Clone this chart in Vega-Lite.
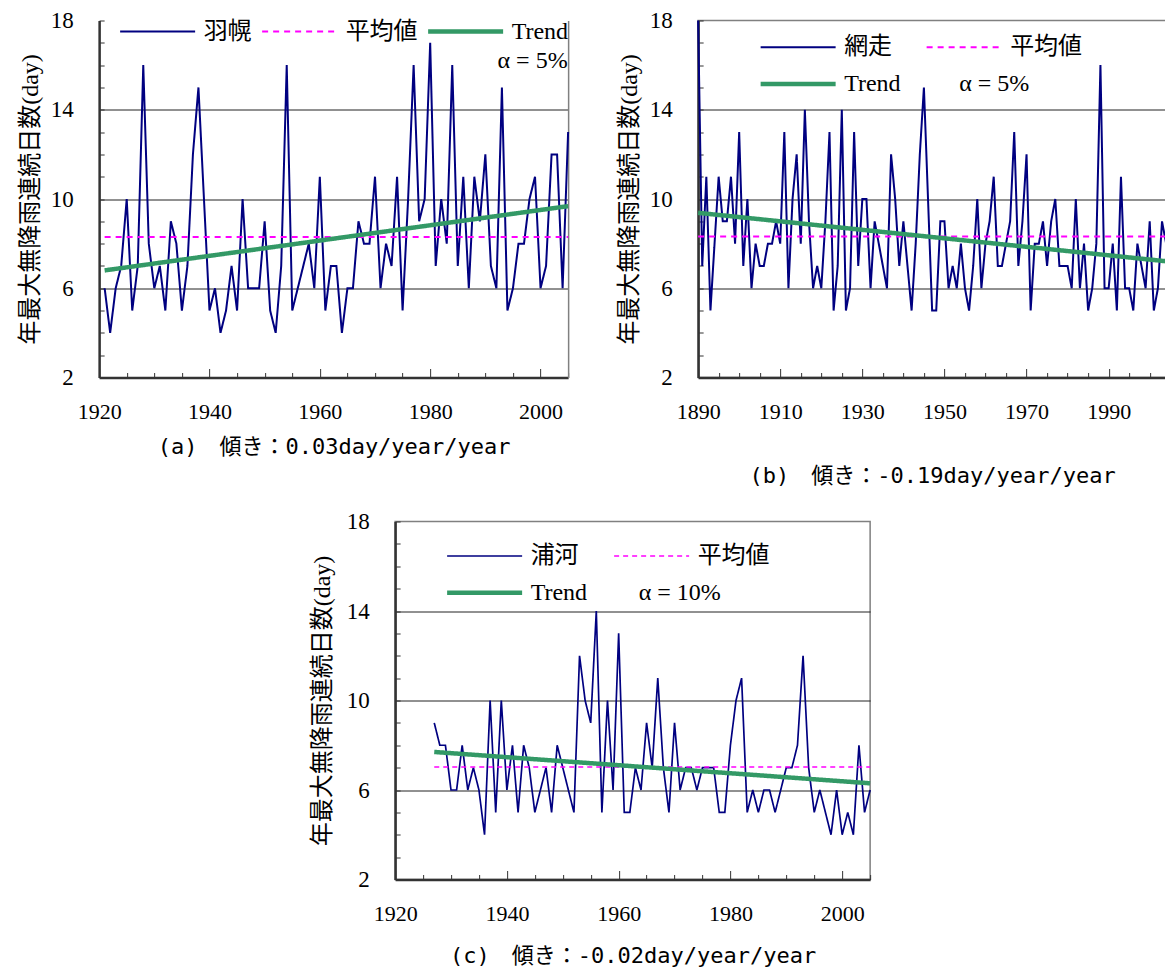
{
  "$schema": "https://vega.github.io/schema/vega-lite/v6.json",
  "padding": {"left": 18, "top": 8.5, "right": 0, "bottom": 0},
  "background": "white",
  "datasets": {
    "a": [
      {"year":1921,"value":6,"s":"羽幌"},{"year":1922,"value":4,"s":"羽幌"},{"year":1923,"value":6,"s":"羽幌"},{"year":1924,"value":7,"s":"羽幌"},{"year":1925,"value":10,"s":"羽幌"},
      {"year":1926,"value":5,"s":"羽幌"},{"year":1927,"value":7,"s":"羽幌"},{"year":1928,"value":16,"s":"羽幌"},{"year":1929,"value":8,"s":"羽幌"},{"year":1930,"value":6,"s":"羽幌"},
      {"year":1931,"value":7,"s":"羽幌"},{"year":1932,"value":5,"s":"羽幌"},{"year":1933,"value":9,"s":"羽幌"},{"year":1934,"value":8,"s":"羽幌"},{"year":1935,"value":5,"s":"羽幌"},
      {"year":1936,"value":7,"s":"羽幌"},{"year":1937,"value":12,"s":"羽幌"},{"year":1938,"value":15,"s":"羽幌"},{"year":1939,"value":10,"s":"羽幌"},{"year":1940,"value":5,"s":"羽幌"},
      {"year":1941,"value":6,"s":"羽幌"},{"year":1942,"value":4,"s":"羽幌"},{"year":1943,"value":5,"s":"羽幌"},{"year":1944,"value":7,"s":"羽幌"},{"year":1945,"value":5,"s":"羽幌"},
      {"year":1946,"value":10,"s":"羽幌"},{"year":1947,"value":6,"s":"羽幌"},{"year":1948,"value":6,"s":"羽幌"},{"year":1949,"value":6,"s":"羽幌"},{"year":1950,"value":9,"s":"羽幌"},
      {"year":1951,"value":5,"s":"羽幌"},{"year":1952,"value":4,"s":"羽幌"},{"year":1953,"value":7,"s":"羽幌"},{"year":1954,"value":16,"s":"羽幌"},{"year":1955,"value":5,"s":"羽幌"},
      {"year":1956,"value":6,"s":"羽幌"},{"year":1957,"value":7,"s":"羽幌"},{"year":1958,"value":8,"s":"羽幌"},{"year":1959,"value":6,"s":"羽幌"},{"year":1960,"value":11,"s":"羽幌"},
      {"year":1961,"value":5,"s":"羽幌"},{"year":1962,"value":7,"s":"羽幌"},{"year":1963,"value":7,"s":"羽幌"},{"year":1964,"value":4,"s":"羽幌"},{"year":1965,"value":6,"s":"羽幌"},
      {"year":1966,"value":6,"s":"羽幌"},{"year":1967,"value":9,"s":"羽幌"},{"year":1968,"value":8,"s":"羽幌"},{"year":1969,"value":8,"s":"羽幌"},{"year":1970,"value":11,"s":"羽幌"},
      {"year":1971,"value":6,"s":"羽幌"},{"year":1972,"value":8,"s":"羽幌"},{"year":1973,"value":7,"s":"羽幌"},{"year":1974,"value":11,"s":"羽幌"},{"year":1975,"value":5,"s":"羽幌"},
      {"year":1976,"value":10,"s":"羽幌"},{"year":1977,"value":16,"s":"羽幌"},{"year":1978,"value":9,"s":"羽幌"},{"year":1979,"value":10,"s":"羽幌"},{"year":1980,"value":17,"s":"羽幌"},
      {"year":1981,"value":7,"s":"羽幌"},{"year":1982,"value":10,"s":"羽幌"},{"year":1983,"value":8,"s":"羽幌"},{"year":1984,"value":16,"s":"羽幌"},{"year":1985,"value":7,"s":"羽幌"},
      {"year":1986,"value":11,"s":"羽幌"},{"year":1987,"value":6,"s":"羽幌"},{"year":1988,"value":11,"s":"羽幌"},{"year":1989,"value":9,"s":"羽幌"},{"year":1990,"value":12,"s":"羽幌"},
      {"year":1991,"value":7,"s":"羽幌"},{"year":1992,"value":6,"s":"羽幌"},{"year":1993,"value":15,"s":"羽幌"},{"year":1994,"value":5,"s":"羽幌"},{"year":1995,"value":6,"s":"羽幌"},
      {"year":1996,"value":8,"s":"羽幌"},{"year":1997,"value":8,"s":"羽幌"},{"year":1998,"value":10,"s":"羽幌"},{"year":1999,"value":11,"s":"羽幌"},{"year":2000,"value":6,"s":"羽幌"},
      {"year":2001,"value":7,"s":"羽幌"},{"year":2002,"value":12,"s":"羽幌"},{"year":2003,"value":12,"s":"羽幌"},{"year":2004,"value":6,"s":"羽幌"},{"year":2005,"value":13,"s":"羽幌"},
      {"year":1921,"value":8.3,"s":"平均値"},{"year":2005,"value":8.3,"s":"平均値"},
      {"year":1921,"value":6.8,"s":"Trend"},{"year":2005,"value":9.68,"s":"Trend"}
    ],
    "b": [
      {"year":1890,"value":18,"s":"網走"},{"year":1891,"value":7,"s":"網走"},{"year":1892,"value":11,"s":"網走"},{"year":1893,"value":5,"s":"網走"},{"year":1894,"value":8,"s":"網走"},
      {"year":1895,"value":11,"s":"網走"},{"year":1896,"value":9,"s":"網走"},{"year":1897,"value":9,"s":"網走"},{"year":1898,"value":11,"s":"網走"},{"year":1899,"value":8,"s":"網走"},
      {"year":1900,"value":13,"s":"網走"},{"year":1901,"value":7,"s":"網走"},{"year":1902,"value":10,"s":"網走"},{"year":1903,"value":6,"s":"網走"},{"year":1904,"value":8,"s":"網走"},
      {"year":1905,"value":7,"s":"網走"},{"year":1906,"value":7,"s":"網走"},{"year":1907,"value":8,"s":"網走"},{"year":1908,"value":8,"s":"網走"},{"year":1909,"value":9,"s":"網走"},
      {"year":1910,"value":8,"s":"網走"},{"year":1911,"value":13,"s":"網走"},{"year":1912,"value":6,"s":"網走"},{"year":1913,"value":10,"s":"網走"},{"year":1914,"value":12,"s":"網走"},
      {"year":1915,"value":8,"s":"網走"},{"year":1916,"value":14,"s":"網走"},{"year":1917,"value":9,"s":"網走"},{"year":1918,"value":6,"s":"網走"},{"year":1919,"value":7,"s":"網走"},
      {"year":1920,"value":6,"s":"網走"},{"year":1921,"value":9,"s":"網走"},{"year":1922,"value":13,"s":"網走"},{"year":1923,"value":5,"s":"網走"},{"year":1924,"value":7,"s":"網走"},
      {"year":1925,"value":14,"s":"網走"},{"year":1926,"value":5,"s":"網走"},{"year":1927,"value":6,"s":"網走"},{"year":1928,"value":13,"s":"網走"},{"year":1929,"value":7,"s":"網走"},
      {"year":1930,"value":10,"s":"網走"},{"year":1931,"value":10,"s":"網走"},{"year":1932,"value":6,"s":"網走"},{"year":1933,"value":9,"s":"網走"},{"year":1934,"value":8,"s":"網走"},
      {"year":1935,"value":7,"s":"網走"},{"year":1936,"value":6,"s":"網走"},{"year":1937,"value":12,"s":"網走"},{"year":1938,"value":10,"s":"網走"},{"year":1939,"value":7,"s":"網走"},
      {"year":1940,"value":9,"s":"網走"},{"year":1941,"value":7,"s":"網走"},{"year":1942,"value":5,"s":"網走"},{"year":1943,"value":8,"s":"網走"},{"year":1944,"value":12,"s":"網走"},
      {"year":1945,"value":15,"s":"網走"},{"year":1946,"value":10,"s":"網走"},{"year":1947,"value":5,"s":"網走"},{"year":1948,"value":5,"s":"網走"},{"year":1949,"value":9,"s":"網走"},
      {"year":1950,"value":9,"s":"網走"},{"year":1951,"value":6,"s":"網走"},{"year":1952,"value":7,"s":"網走"},{"year":1953,"value":6,"s":"網走"},{"year":1954,"value":8,"s":"網走"},
      {"year":1955,"value":6,"s":"網走"},{"year":1956,"value":5,"s":"網走"},{"year":1957,"value":7,"s":"網走"},{"year":1958,"value":10,"s":"網走"},{"year":1959,"value":6,"s":"網走"},
      {"year":1960,"value":8,"s":"網走"},{"year":1961,"value":9,"s":"網走"},{"year":1962,"value":11,"s":"網走"},{"year":1963,"value":7,"s":"網走"},{"year":1964,"value":7,"s":"網走"},
      {"year":1965,"value":8,"s":"網走"},{"year":1966,"value":9,"s":"網走"},{"year":1967,"value":13,"s":"網走"},{"year":1968,"value":7,"s":"網走"},{"year":1969,"value":9,"s":"網走"},
      {"year":1970,"value":12,"s":"網走"},{"year":1971,"value":5,"s":"網走"},{"year":1972,"value":8,"s":"網走"},{"year":1973,"value":8,"s":"網走"},{"year":1974,"value":9,"s":"網走"},
      {"year":1975,"value":7,"s":"網走"},{"year":1976,"value":9,"s":"網走"},{"year":1977,"value":10,"s":"網走"},{"year":1978,"value":7,"s":"網走"},{"year":1979,"value":7,"s":"網走"},
      {"year":1980,"value":7,"s":"網走"},{"year":1981,"value":6,"s":"網走"},{"year":1982,"value":10,"s":"網走"},{"year":1983,"value":6,"s":"網走"},{"year":1984,"value":8,"s":"網走"},
      {"year":1985,"value":5,"s":"網走"},{"year":1986,"value":6,"s":"網走"},{"year":1987,"value":8,"s":"網走"},{"year":1988,"value":16,"s":"網走"},{"year":1989,"value":6,"s":"網走"},
      {"year":1990,"value":6,"s":"網走"},{"year":1991,"value":8,"s":"網走"},{"year":1992,"value":5,"s":"網走"},{"year":1993,"value":11,"s":"網走"},{"year":1994,"value":6,"s":"網走"},
      {"year":1995,"value":6,"s":"網走"},{"year":1996,"value":5,"s":"網走"},{"year":1997,"value":8,"s":"網走"},{"year":1998,"value":7,"s":"網走"},{"year":1999,"value":6,"s":"網走"},
      {"year":2000,"value":9,"s":"網走"},{"year":2001,"value":5,"s":"網走"},{"year":2002,"value":6,"s":"網走"},{"year":2003,"value":9,"s":"網走"},{"year":2004,"value":8,"s":"網走"},
      {"year":1890,"value":8.32,"s":"平均値"},{"year":2004,"value":8.32,"s":"平均値"},
      {"year":1890,"value":9.38,"s":"Trend"},{"year":2004,"value":7.21,"s":"Trend"}
    ],
    "c": [
      {"year":1927,"value":9,"s":"浦河"},{"year":1928,"value":8,"s":"浦河"},{"year":1929,"value":8,"s":"浦河"},{"year":1930,"value":6,"s":"浦河"},{"year":1931,"value":6,"s":"浦河"},
      {"year":1932,"value":8,"s":"浦河"},{"year":1933,"value":6,"s":"浦河"},{"year":1934,"value":7,"s":"浦河"},{"year":1935,"value":6,"s":"浦河"},{"year":1936,"value":4,"s":"浦河"},
      {"year":1937,"value":10,"s":"浦河"},{"year":1938,"value":5,"s":"浦河"},{"year":1939,"value":10,"s":"浦河"},{"year":1940,"value":6,"s":"浦河"},{"year":1941,"value":8,"s":"浦河"},
      {"year":1942,"value":5,"s":"浦河"},{"year":1943,"value":8,"s":"浦河"},{"year":1944,"value":7,"s":"浦河"},{"year":1945,"value":5,"s":"浦河"},{"year":1946,"value":6,"s":"浦河"},
      {"year":1947,"value":7,"s":"浦河"},{"year":1948,"value":5,"s":"浦河"},{"year":1949,"value":8,"s":"浦河"},{"year":1950,"value":7,"s":"浦河"},{"year":1951,"value":6,"s":"浦河"},
      {"year":1952,"value":5,"s":"浦河"},{"year":1953,"value":12,"s":"浦河"},{"year":1954,"value":10,"s":"浦河"},{"year":1955,"value":9,"s":"浦河"},{"year":1956,"value":14,"s":"浦河"},
      {"year":1957,"value":5,"s":"浦河"},{"year":1958,"value":10,"s":"浦河"},{"year":1959,"value":6,"s":"浦河"},{"year":1960,"value":13,"s":"浦河"},{"year":1961,"value":5,"s":"浦河"},
      {"year":1962,"value":5,"s":"浦河"},{"year":1963,"value":7,"s":"浦河"},{"year":1964,"value":6,"s":"浦河"},{"year":1965,"value":9,"s":"浦河"},{"year":1966,"value":7,"s":"浦河"},
      {"year":1967,"value":11,"s":"浦河"},{"year":1968,"value":7,"s":"浦河"},{"year":1969,"value":5,"s":"浦河"},{"year":1970,"value":9,"s":"浦河"},{"year":1971,"value":6,"s":"浦河"},
      {"year":1972,"value":7,"s":"浦河"},{"year":1973,"value":7,"s":"浦河"},{"year":1974,"value":6,"s":"浦河"},{"year":1975,"value":7,"s":"浦河"},{"year":1976,"value":7,"s":"浦河"},
      {"year":1977,"value":7,"s":"浦河"},{"year":1978,"value":5,"s":"浦河"},{"year":1979,"value":5,"s":"浦河"},{"year":1980,"value":8,"s":"浦河"},{"year":1981,"value":10,"s":"浦河"},
      {"year":1982,"value":11,"s":"浦河"},{"year":1983,"value":5,"s":"浦河"},{"year":1984,"value":6,"s":"浦河"},{"year":1985,"value":5,"s":"浦河"},{"year":1986,"value":6,"s":"浦河"},
      {"year":1987,"value":6,"s":"浦河"},{"year":1988,"value":5,"s":"浦河"},{"year":1989,"value":6,"s":"浦河"},{"year":1990,"value":7,"s":"浦河"},{"year":1991,"value":7,"s":"浦河"},
      {"year":1992,"value":8,"s":"浦河"},{"year":1993,"value":12,"s":"浦河"},{"year":1994,"value":7,"s":"浦河"},{"year":1995,"value":5,"s":"浦河"},{"year":1996,"value":6,"s":"浦河"},
      {"year":1997,"value":5,"s":"浦河"},{"year":1998,"value":4,"s":"浦河"},{"year":1999,"value":6,"s":"浦河"},{"year":2000,"value":4,"s":"浦河"},{"year":2001,"value":5,"s":"浦河"},
      {"year":2002,"value":4,"s":"浦河"},{"year":2003,"value":8,"s":"浦河"},{"year":2004,"value":5,"s":"浦河"},{"year":2005,"value":6,"s":"浦河"},
      {"year":1927,"value":7.03,"s":"平均値"},{"year":2005,"value":7.03,"s":"平均値"},
      {"year":1927,"value":7.7,"s":"Trend"},{"year":2005,"value":6.3,"s":"Trend"}
    ]
  },
  "spacing": 22,
  "center": true,
  "resolve": {"scale": {"color": "independent", "strokeDash": "independent", "strokeWidth": "independent"}},
  "vconcat": [
    {
      "spacing": 39,
      "resolve": {"scale": {"color": "independent", "strokeDash": "independent", "strokeWidth": "independent"}},
      "hconcat": [
        {
          "width": 469, "height": 357,
          "view": {"stroke": null},
          "data": {"name": "a"},
          "encoding": {
            "x": {"field": "year", "type": "quantitative",
              "scale": {"domain": [1920, 2005], "nice": false, "zero": false},
              "axis": {"values": [1920,1925,1930,1935,1940,1945,1950,1955,1960,1965,1970,1975,1980,1985,1990,1995,2000,2005],
                "format": "d", "labelExpr": "datum.value % 20 === 0 ? datum.label : ''",
                "tickSize": {"condition": {"test": "datum.value % 20 === 0", "value": -9}, "value": -5},
                "labelPadding": 33, "labelFontSize": 22, "grid": false,
                "title": "(a)　傾き：0.03day/year/year", "titlePadding": 10}},
            "y": {"field": "value", "type": "quantitative",
              "scale": {"domain": [2, 18], "nice": false, "zero": false},
              "axis": {"values": [2,3,4,5,6,7,8,9,10,11,12,13,14,15,16,17,18],
                "labelExpr": "(datum.value - 2) % 4 === 0 ? datum.label : ''",
                "tickSize": -5, "labelPadding": 31, "labelFontSize": 23,
                "grid": true,
                "gridOpacity": {"condition": {"test": "(datum.value - 2) % 4 === 0 && datum.value > 2 && datum.value < 18", "value": 1}, "value": 0},
                "title": "年最大無降雨連続日数(day)"}},
            "color": {"field": "s", "type": "nominal",
              "scale": {"domain": ["羽幌", "平均値", "Trend"], "range": ["#000080", "#FF00FF", "#339966"]},
              "legend": {"orient": "none", "legendX": 18.5, "legendY": -1, "columns": 3, "columnPadding": 8,
                "title": "α = 5%", "titleOrient": "bottom", "titleAnchor": "end", "titlePadding": 5}},
            "strokeDash": {"field": "s", "type": "nominal",
              "scale": {"domain": ["羽幌", "平均値", "Trend"], "range": [[1, 0], [6, 5], [1, 0]]}},
            "strokeWidth": {"field": "s", "type": "nominal",
              "scale": {"type": "ordinal", "domain": ["羽幌", "平均値", "Trend"], "range": [2, 2, 4.5]}}
          },
          "layer": [
            {"transform": [{"filter": "datum.s == '羽幌'"}], "mark": {"type": "line"}},
            {"transform": [{"filter": "datum.s == '平均値'"}], "mark": {"type": "line"},
              "encoding": {"y": {"field": "value", "type": "quantitative",
                "scale": {"domain": [2, 18], "nice": false, "zero": false},
                "axis": {"orient": "right", "labels": false, "ticks": false, "grid": false, "title": null,
                  "domainColor": "#808080", "domainWidth": 1.5}}}},
            {"transform": [{"filter": "datum.s == 'Trend'"}], "mark": {"type": "line"},
              "encoding": {"y": {"field": "value", "type": "quantitative",
                "scale": {"domain": [2, 18], "nice": false, "zero": false}, "axis": null}}}
          ],
          "resolve": {"axis": {"y": "independent"}}
        },
        {
          "width": 468, "height": 357,
          "data": {"name": "b"},
          "encoding": {
            "x": {"field": "year", "type": "quantitative",
              "scale": {"domain": [1890, 2004], "nice": false, "zero": false},
              "axis": {"values": [1890,1895,1900,1905,1910,1915,1920,1925,1930,1935,1940,1945,1950,1955,1960,1965,1970,1975,1980,1985,1990,1995,2000],
                "format": "d", "labelExpr": "(datum.value - 1890) % 20 === 0 ? datum.label : ''",
                "tickSize": {"condition": {"test": "(datum.value - 1890) % 20 === 0", "value": -9}, "value": -5},
                "labelPadding": 33, "labelFontSize": 22, "grid": false,
                "title": "(b)　傾き：-0.19day/year/year", "titlePadding": 39}},
            "y": {"field": "value", "type": "quantitative",
              "scale": {"domain": [2, 18], "nice": false, "zero": false},
              "axis": {"values": [2,3,4,5,6,7,8,9,10,11,12,13,14,15,16,17,18],
                "labelExpr": "(datum.value - 2) % 4 === 0 ? datum.label : ''",
                "tickSize": -5, "labelPadding": 31, "labelFontSize": 23,
                "grid": true,
                "gridOpacity": {"condition": {"test": "(datum.value - 2) % 4 === 0 && datum.value > 2 && datum.value < 18", "value": 1}, "value": 0},
                "title": "年最大無降雨連続日数(day)"}},
            "color": {"field": "s", "type": "nominal",
              "scale": {"domain": ["網走", "平均値", "Trend", "α = 5%"], "range": ["#000080", "#FF00FF", "#339966", "transparent"]},
              "legend": {"orient": "none", "direction": "horizontal", "legendX": 60, "legendY": 14.7, "columns": 2, "columnPadding": 23, "title": null,
                "labelOffset": {"expr": "indexof(datum.label, 'α') == 0 ? -45 : 6"}}},
            "strokeDash": {"field": "s", "type": "nominal",
              "scale": {"domain": ["網走", "平均値", "Trend", "α = 5%"], "range": [[1, 0], [6, 5], [1, 0], [1, 0]]}},
            "strokeWidth": {"field": "s", "type": "nominal",
              "scale": {"type": "ordinal", "domain": ["網走", "平均値", "Trend", "α = 5%"], "range": [2, 2, 4.5, 0]}}
          },
          "layer": [
            {"transform": [{"filter": "datum.s == '網走'"}], "mark": {"type": "line"}},
            {"transform": [{"filter": "datum.s == '平均値'"}], "mark": {"type": "line"}},
            {"transform": [{"filter": "datum.s == 'Trend'"}], "mark": {"type": "line"}}
          ]
        }
      ]
    },
    {
      "width": 475, "height": 358,
      "data": {"name": "c"},
      "encoding": {
        "x": {"field": "year", "type": "quantitative",
          "scale": {"domain": [1920, 2005], "nice": false, "zero": false},
          "axis": {"values": [1920,1925,1930,1935,1940,1945,1950,1955,1960,1965,1970,1975,1980,1985,1990,1995,2000,2005],
            "format": "d", "labelExpr": "datum.value % 20 === 0 ? datum.label : ''",
            "tickSize": {"condition": {"test": "datum.value % 20 === 0", "value": -9}, "value": -5},
            "labelPadding": 33, "labelFontSize": 22, "grid": false,
            "title": "(c)　傾き：-0.02day/year/year", "titlePadding": 17}},
        "y": {"field": "value", "type": "quantitative",
          "scale": {"domain": [2, 18], "nice": false, "zero": false},
          "axis": {"values": [2,3,4,5,6,7,8,9,10,11,12,13,14,15,16,17,18],
            "labelExpr": "(datum.value - 2) % 4 === 0 ? datum.label : ''",
            "tickSize": -5, "labelPadding": 31, "labelFontSize": 23,
            "grid": true,
            "gridOpacity": {"condition": {"test": "(datum.value - 2) % 4 === 0 && datum.value > 2 && datum.value < 18", "value": 1}, "value": 0},
            "title": "年最大無降雨連続日数(day)", "titlePadding": 12}},
        "color": {"field": "s", "type": "nominal",
          "scale": {"domain": ["浦河", "平均値", "Trend", "α = 10%"], "range": ["#000080", "#FF00FF", "#339966", "transparent"]},
          "legend": {"orient": "none", "direction": "horizontal", "legendX": 49.5, "legendY": 22.5, "columns": 2, "columnPadding": 24, "title": null,
            "labelOffset": {"expr": "indexof(datum.label, 'α') == 0 ? -53 : 6"}}},
        "strokeDash": {"field": "s", "type": "nominal",
          "scale": {"domain": ["浦河", "平均値", "Trend", "α = 10%"], "range": [[1, 0], [5, 4], [1, 0], [1, 0]]}},
        "strokeWidth": {"field": "s", "type": "nominal",
          "scale": {"type": "ordinal", "domain": ["浦河", "平均値", "Trend", "α = 10%"], "range": [1.7, 1.5, 4.5, 0]}}
      },
      "layer": [
        {"transform": [{"filter": "datum.s == '浦河'"}], "mark": {"type": "line"}},
        {"transform": [{"filter": "datum.s == '平均値'"}], "mark": {"type": "line"}},
        {"transform": [{"filter": "datum.s == 'Trend'"}], "mark": {"type": "line"}}
      ]
    }
  ],
  "config": {
    "font": "'Noto Sans CJK JP'",
    "view": {"stroke": "#808080", "strokeWidth": 1.5},
    "axis": {
      "domainColor": "#333333", "domainWidth": 2.5,
      "tickColor": "#333333", "tickWidth": 1,
      "gridColor": "#222222", "gridWidth": 1,
      "labelFont": "'Liberation Serif'", "labelColor": "#000000",
      "labelFlush": false, "labelOverlap": false, "labelBound": false,
      "titleColor": "#000000", "titleFontWeight": "normal",
      "titleFont": "'Liberation Serif', 'Noto Sans CJK JP'", "titleFontSize": 24, "titlePadding": 8
    },
    "axisX": {"titleFont": "'DejaVu Sans Mono', 'Noto Sans CJK JP'", "titleFontSize": 22},
    "legend": {
      "symbolType": "stroke", "symbolSize": 5625, "clipHeight": 24, "labelFontSize": 24, "labelOffset": 6,
      "labelFont": {"expr": "datum.label == 'Trend' || indexof(datum.label, 'α') == 0 ? 'Liberation Serif' : 'Noto Sans CJK JP'"},
      "labelColor": "#000000", "labelLimit": 0,
      "rowPadding": 12.7, "padding": 0,
      "titleFont": "'Liberation Serif'", "titleFontSize": 24, "titleFontWeight": "normal", "titleColor": "#000000"
    }
  }
}
